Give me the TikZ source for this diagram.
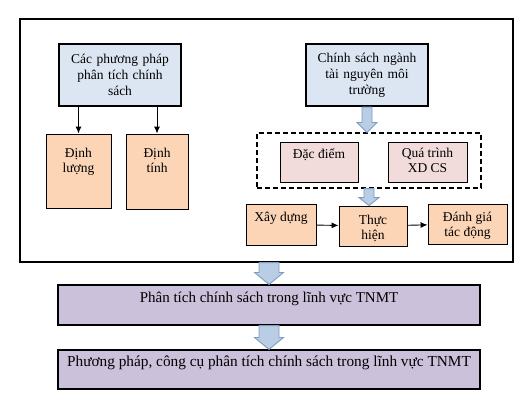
\documentclass[tikz,border=0pt]{standalone}
\usepackage{fontspec}
\setmainfont{Liberation Serif}
\usetikzlibrary{calc,arrows.meta}
\definecolor{bluebox}{HTML}{DCE6F2}
\definecolor{peach}{HTML}{FBD5B5}
\definecolor{pinkbox}{HTML}{F2DCDB}
\definecolor{lav}{HTML}{CCC1DA}
\definecolor{arrfill}{HTML}{B9CDE5}
\definecolor{arrline}{HTML}{7E9BC0}
\newcommand\blockarr[5]{%
  \draw[barrow] let \p1=(#1), \p2=(#2) in
    ({\x1-#3pt},\y1) -- ({\x1+#3pt},\y1) -- ({\x1+#3pt},{\y2+#5pt}) -- ({\x1+#4pt},{\y2+#5pt})
    -- (\x1,\y2) -- ({\x1-#4pt},{\y2+#5pt}) -- ({\x1-#3pt},{\y2+#5pt}) -- cycle;}
\begin{document}
\begin{tikzpicture}[x=1pt,y=-1pt,
  font=\fontsize{13.5}{15.8}\selectfont,
  base/.style={draw=black, inner sep=0pt, line width=0.9pt},
  topbox/.style={base, fill=bluebox, line width=2pt, align=center, text width=118pt},
  pbox/.style={base, fill=peach},
  kbox/.style={base, fill=pinkbox},
  lbox/.style={base, fill=lav, line width=1.1pt},
  lbl/.style={anchor=north, align=center, inner sep=0pt},
  frame/.style={draw=black, line width=1.1pt},
  dashbox/.style={draw=black, line width=1.1pt, dash pattern=on 5pt off 3pt},
  conn/.style={-{Latex[length=7pt,width=6pt]}, line width=0.9pt},
  barrow/.style={fill=arrfill, draw=arrline, line width=0.9pt}]
\useasboundingbox[fill=white] (0,0) rectangle (528,402);

\node[frame, minimum width=493pt, minimum height=243pt] (frame) at (266.5,140.5) {};

\node[topbox, minimum width=122pt, minimum height=62pt] (m1) at (120,75)
  {Các phương pháp\\phân tích chính\\sách};
\node[topbox, minimum width=122pt, minimum height=62pt] (m2) at (367,75)
  {Chính sách ngành\\tài nguyên môi\\trường};

\node[pbox, minimum width=65pt, minimum height=74pt,
  label={[lbl, yshift=-14pt]north:Định\\lượng}] (dl) at (78.5,171) {};
\node[pbox, minimum width=62pt, minimum height=75pt,
  label={[lbl, yshift=-14pt]north:Định\\tính}] (dt) at (157,171.5) {};

\node[dashbox, minimum width=224pt, minimum height=55pt] (dash) at (369,160.5) {};
\node[kbox, minimum width=78pt, minimum height=40pt,
  label={[lbl, yshift=-7pt]north:Đặc điểm}] (dd) at (319,162) {};
\node[kbox, minimum width=79pt, minimum height=40pt,
  label={[lbl, yshift=-6pt]north:Quá trình\\XD CS}] (qt) at (427.5,162) {};

\node[pbox, minimum width=70pt, minimum height=41pt,
  label={[lbl, yshift=-8pt]north:Xây dựng}] (xd) at (281,224.5) {};
\node[pbox, minimum width=68pt, minimum height=40pt,
  label={[lbl, yshift=-9pt]north:Thực\\hiện}] (th) at (373,226) {};
\node[pbox, minimum width=79pt, minimum height=40pt,
  label={[lbl, yshift=-8pt]north:Đánh giá\\tác động}] (dg) at (467.5,224) {};

\node[lbox, minimum width=422pt, minimum height=40pt,
  label={[lbl, yshift=-7pt, font=\fontsize{15}{17}\selectfont]north:Phân tích chính sách trong lĩnh vực TNMT}] (p1) at (269,305) {};
\node[lbox, minimum width=422pt, minimum height=39pt,
  label={[lbl, yshift=-6pt, font=\fontsize{15.3}{18}\selectfont]north:Phương pháp, công cụ phân tích chính sách trong lĩnh vực TNMT}] (p2) at (269,369.5) {};

\draw[conn] (m1.south -| dl.north) -- (dl.north);
\draw[conn] (m1.south -| dt.north) -- (dt.north);
\draw[conn] (xd) -- (th);
\draw[conn] (th) -- (dg);

\blockarr{m2.south}{dash.north}{5}{10}{10}
\blockarr{dash.south}{dash.south |- th.north}{5}{10}{8}
\blockarr{p1.north |- frame.south}{p1.north}{10}{14.5}{12}
\blockarr{p1.south}{p2.north}{10}{14.5}{12}
\end{tikzpicture}
\end{document}
